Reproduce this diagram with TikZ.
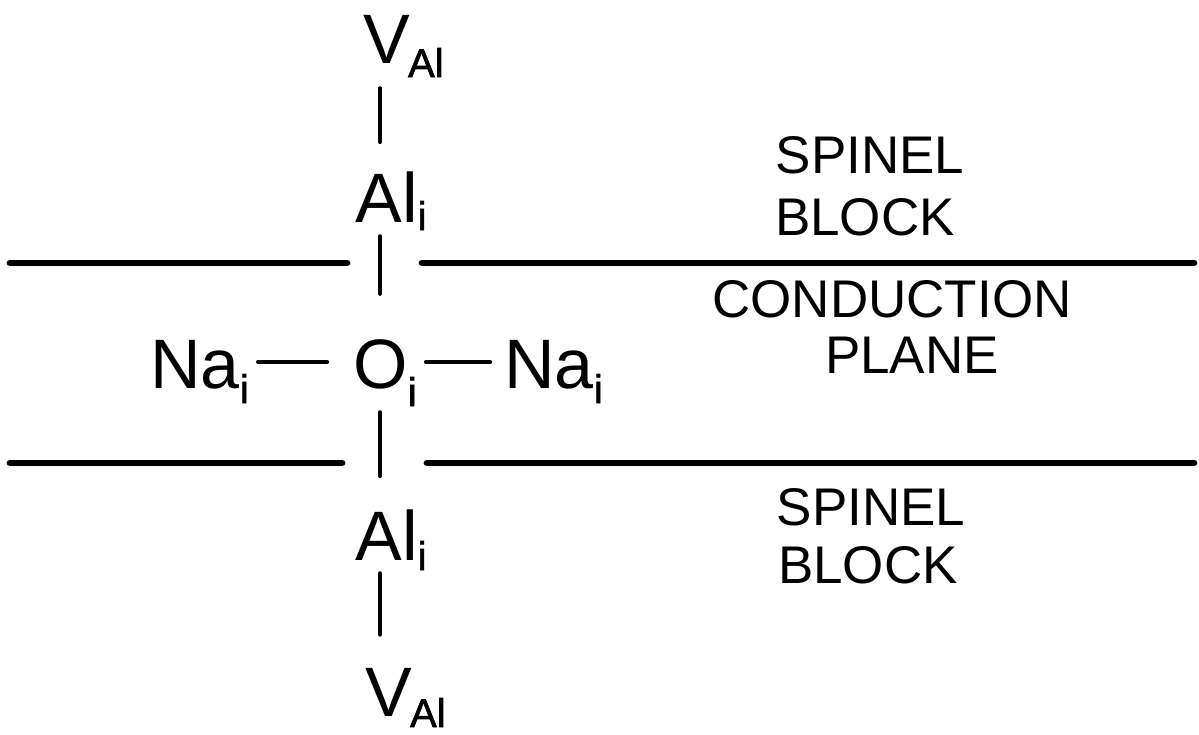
\documentclass[tikz,border=0pt]{standalone}
\usepackage{fontspec}
\setmainfont{Liberation Sans}
\newfontfamily\subfam[FakeBold=1.5]{Liberation Sans}
\newcommand{\bigsz}{\fontsize{35pt}{40pt}\selectfont}
\newcommand{\subsz}{\subfam\fontsize{20pt}{22pt}\selectfont}
\newcommand{\lblsz}{\fontsize{26.5pt}{30pt}\selectfont}
\newcommand{\lowsub}[2]{\raisebox{-#1}{\subsz #2}}
\tikzset{
  species/.style={inner sep=0pt, anchor=base west, font=\bigsz},
  region/.style={inner sep=0pt, anchor=base, font=\lblsz},
  bond/.style={line width=2.2pt, line cap=round},
  boundary/.style={line width=3.4pt, line cap=round}
}
\begin{document}
\begin{tikzpicture}[x=0.5pt,y=-0.5pt]
\useasboundingbox (0,0) rectangle (1199,734);
% species
\node[species] (vtop)  at (363,63)  {V\kern-1pt\lowsub{7pt}{Al}};
\node[species] (altop) at (355,222) {Al\lowsub{4pt}{i}};
\node[species] (O)     at (353,388) {O\lowsub{9pt}{i}};
\node[species] (naL)   at (150,388) {Na\lowsub{7.5pt}{i}};
\node[species] (naR)   at (504,388) {Na\lowsub{7.5pt}{i}};
\node[species] (albot) at (355,560) {Al\lowsub{5pt}{i}};
\node[species] (vbot)  at (365,716) {V\kern-1pt\lowsub{5.5pt}{Al}};
% region labels
\node[region] (sp1)  at (870,173) {SPINEL};
\node[region] (bl1)  at (865,235) {BLOCK};
\node[region] (cond) at (892,317) {CONDUCTION};
\node[region] (pla)  at (912,373) {PLANE};
\node[region] (sp2)  at (871,525) {SPINEL};
\node[region] (bl2)  at (868,583) {BLOCK};
% bonds
\coordinate (col) at (380,0);
\coordinate (hb) at (0,362);
\draw[bond, shorten <=5.5pt, shorten >=14.5pt] (vtop.south -| col) -- (altop.north -| col);
\draw[bond, shorten <=3pt, shorten >=22.5pt] (altop.south -| col) -- (O.north -| col);
\draw[bond, shorten <=3pt, shorten >=16.5pt] (O.south -| col) -- (albot.north -| col);
\draw[bond, shorten <=1.5pt, shorten >=16.5pt] (albot.south -| col) -- (vbot.north -| col);
\draw[bond, shorten <=4.5pt, shorten >=13pt] (naL.east |- hb) -- (O.west |- hb);
\draw[bond, shorten <=4.5pt, shorten >=7pt] (O.east |- hb) -- (naR.west |- hb);
% boundaries
\draw[boundary] (10,263) -- (347,263);
\draw[boundary] (422,263) -- (1194,263);
\draw[boundary] (10,463) -- (342,463);
\draw[boundary] (427,463) -- (1194,463);
\end{tikzpicture}
\end{document}
